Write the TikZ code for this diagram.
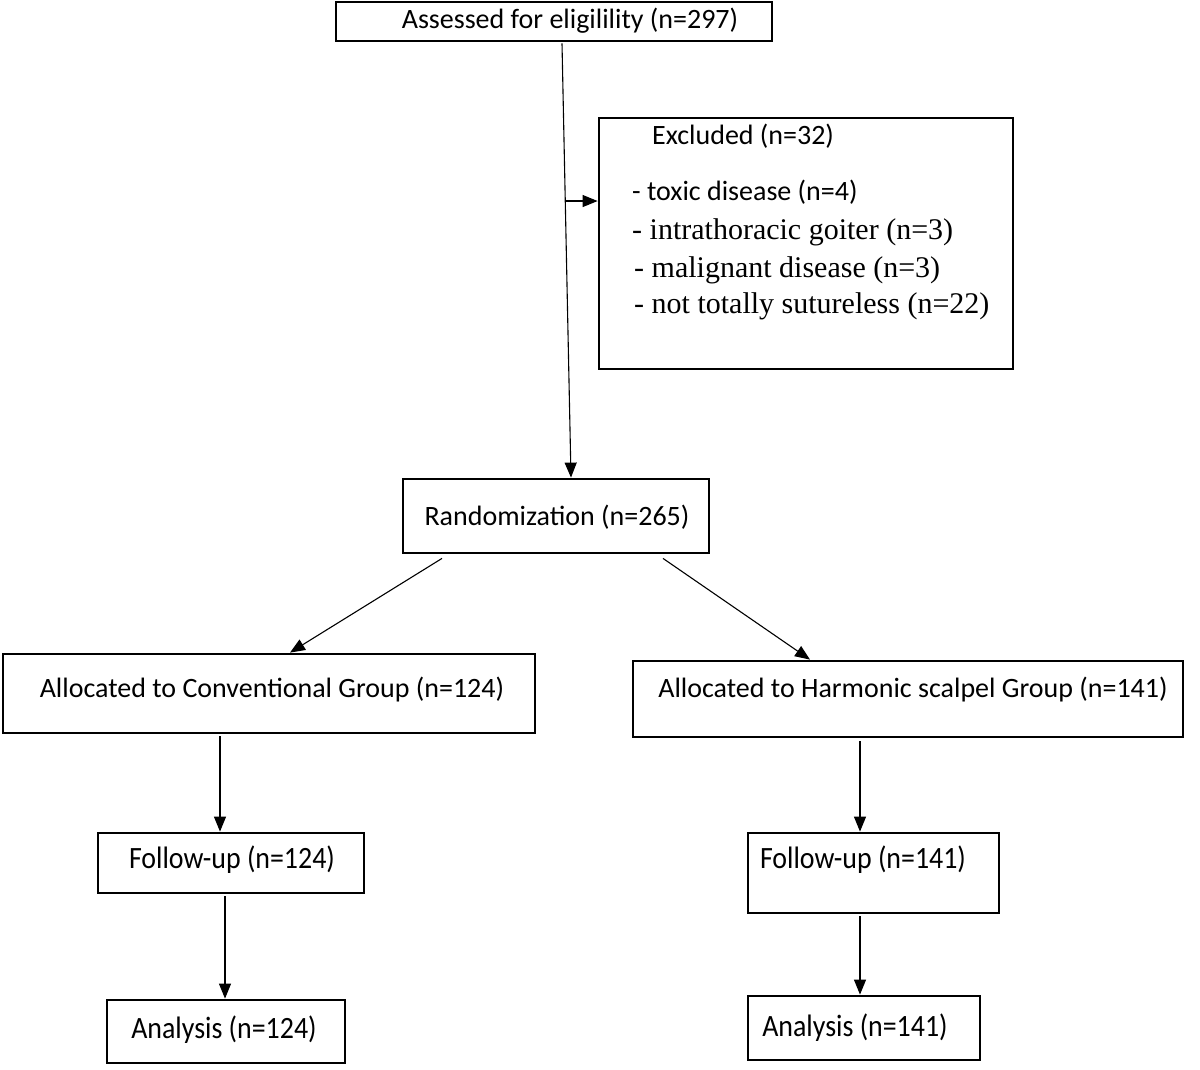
\documentclass[tikz,border=0pt]{standalone}
\usepackage{fontspec}
\setmainfont{Carlito}
\newfontfamily\timesf{Liberation Serif}
\usetikzlibrary{arrows.meta,calc}
\begin{document}
\begin{tikzpicture}[x=1pt,y=-1pt,
  box/.style={draw,line width=2.8pt,rectangle,inner sep=0pt},
  lbl/.style={inner sep=0pt,font=\fontsize{28}{32}\selectfont},
  cond/.style={inner sep=0pt,font=\fontsize{31}{35}\selectfont,xscale=0.9},
  item/.style={inner sep=0pt,anchor=west,font=\timesf\fontsize{30}{34}\selectfont},
  conn/.style={line width=1.1pt,-{Triangle[length=15pt,width=12pt]}}]
\useasboundingbox (0,0) rectangle (1200,1069);
% boxes
\node[box,minimum width=436pt,minimum height=39pt] (assess) at (554,21.5) {};
\node[box,minimum width=414pt,minimum height=251pt] (exc) at (806,243.5) {};
\node[box,minimum width=306pt,minimum height=74pt] (rand) at (556,516) {};
\node[box,minimum width=532pt,minimum height=79pt] (conv) at (269,693.5) {};
\node[box,minimum width=550pt,minimum height=76pt] (harm) at (908,699) {};
\node[box,minimum width=266pt,minimum height=60pt] (fuL) at (231,863) {};
\node[box,minimum width=251pt,minimum height=80pt] (fuR) at (873.5,873) {};
\node[box,minimum width=238pt,minimum height=63pt] (anL) at (226,1031.5) {};
\node[box,minimum width=232pt,minimum height=64pt] (anR) at (864,1028) {};
% texts
\node[lbl] (tassess) at (570,21) {Assessed for eligilility (n=297)};
\node[lbl,anchor=west] (texc) at (652,136) {Excluded (n=32)};
\node[lbl,anchor=west] (t1) at (632,192) {- toxic disease (n=4)};
\node[item] (t2) at (632,232) {- intrathoracic goiter (n=3)};
\node[item] (t3) at (634,270) {- malignant disease (n=3)};
\node[item] (t4) at (634,306) {- not totally sutureless (n=22)};
\node[lbl] (trand) at (557,517) {Randomization (n=265)};
\node[lbl] (tconv) at (272,690) {Allocated to Conventional Group (n=124)};
\node[lbl] (tharm) at (913,690) {Allocated to Harmonic scalpel Group (n=141)};
\node[cond] (tfuL) at (232,860) {Follow-up (n=124)};
\node[cond] (tfuR) at (863,860) {Follow-up (n=141)};
\node[cond] (tanL) at (224,1030) {Analysis (n=124)};
\node[cond] (tanR) at (855,1028) {Analysis (n=141)};
% connectors
\coordinate (a1) at ($(assess.south)+(8,1)$);
\coordinate (a2) at ($(rand.north)+(15,0)$);
\draw[conn] (a1) -- (a2);
\coordinate (j) at ($(a1)!0.363!(a2)$);
\draw[conn] (j) -- (j -| exc.west);
\draw[conn] ($(rand.south)+(-114,4)$) -- ($(conv.north)+(21,0)$);
\draw[conn] ($(rand.south)+(107,4)$) -- ($(harm.north)+(-98,0)$);
\draw[conn] ($(conv.south)+(-49,2)$) -- ($(fuL.north)+(-11,0)$);
\draw[conn] ($(fuL.south)+(-6,2)$) -- ($(anL.north)+(-1,0)$);
\draw[conn] ($(harm.south)+(-48,3)$) -- ($(fuR.north)+(-13.5,0)$);
\draw[conn] ($(fuR.south)+(-13.5,2)$) -- ($(anR.north)+(-4,0)$);
\end{tikzpicture}
\end{document}
